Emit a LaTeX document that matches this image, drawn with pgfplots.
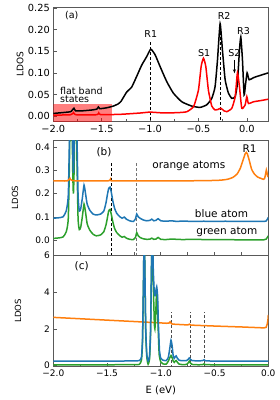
\documentclass[border=0pt]{standalone}
\usepackage{pgfplots}
\pgfplotsset{compat=1.18}
\usetikzlibrary{arrows.meta}
\usepackage{fontspec}
\setmainfont{DejaVu Sans}
\definecolor{tabblue}{HTML}{1F77B4}
\definecolor{taborange}{HTML}{FF7F0E}
\definecolor{tabgreen}{HTML}{2CA02C}
\definecolor{frame}{gray}{0.35}
\pgfplotsset{
  panel/.style={
    scale only axis, width=215pt, anchor=north west,
    axis line style={frame, line width=1pt},
    tick style={frame, line width=0.6pt},
    tick align=inside, xtick pos=lower, ytick pos=left,
    major tick length=3.5pt, minor tick length=3pt,
    minor xtick={-1.75,-1.25,-0.75,-0.25},
    xtick={-2,-1.5,-1,-0.5,0},
    ylabel=LDOS,
    clip=true,
  },
  dline/.style={black, line width=0.9pt, dash pattern=on 3pt off 2pt, forget plot},
  curve/.style={line width=1.5pt, smooth, tension=0.3},
}
\begin{document}
\begin{tikzpicture}
% ---------------- (a)
\begin{axis}[panel, at={(53.3pt,-7.3pt)}, height=114.4pt,
  xmin=-2, xmax=0.222, ymin=-0.0132, ymax=0.252,
  xticklabels={−2.0,−1.5,−1.0,−0.5,0.0},
  ytick={0,0.05,0.1,0.15,0.2,0.25},
  yticklabels={0.00,0.05,0.10,0.15,0.20,0.25},
  every tick label/.append style={font=\fontsize{9.8}{11}\selectfont},
  ylabel style={font=\fontsize{9}{10}\selectfont, at={(axis description cs:-0.155,0.5)}, anchor=center},
]
\fill[red, opacity=0.5] (axis cs:-2,-0.02) rectangle (axis cs:-1.39,0.029);
\addplot[dline] coordinates {(-1.0,-0.02) (-1.0,0.176)};
\addplot[dline] coordinates {(-0.276,-0.02) (-0.276,0.215)};
\addplot[black, curve] coordinates {
(-2.00,0.006) (-1.90,0.008) (-1.82,0.010) (-1.80,0.015) (-1.786,0.018) (-1.77,0.012) (-1.70,0.012)
(-1.60,0.014) (-1.55,0.016) (-1.534,0.021) (-1.52,0.017) (-1.45,0.019) (-1.38,0.023) (-1.33,0.028)
(-1.30,0.034) (-1.276,0.043) (-1.24,0.056) (-1.19,0.067) (-1.14,0.091) (-1.086,0.118) (-1.034,0.138)
(-0.993,0.155) (-0.948,0.142) (-0.897,0.115) (-0.828,0.080) (-0.759,0.053) (-0.672,0.033)
(-0.569,0.023) (-0.483,0.020) (-0.414,0.026) (-0.362,0.041) (-0.328,0.068) (-0.303,0.130)
(-0.276,0.214) (-0.252,0.153) (-0.224,0.084) (-0.19,0.053) (-0.155,0.041) (-0.12,0.045)
(-0.097,0.076) (-0.076,0.153) (-0.062,0.183) (-0.045,0.130) (-0.028,0.049) (-0.014,0.072)
(0.003,0.100) (0.024,0.084) (0.07,0.089) (0.15,0.095) (0.222,0.100)};
\addplot[red, curve] coordinates {
(-2.00,0.002) (-1.82,0.003) (-1.79,0.008) (-1.77,0.003) (-1.55,0.003) (-1.53,0.007) (-1.51,0.003)
(-1.30,0.004) (-1.10,0.007) (-1.00,0.009) (-0.85,0.007) (-0.70,0.008) (-0.62,0.010)
(-0.55,0.022) (-0.50,0.060) (-0.472,0.115) (-0.448,0.134) (-0.424,0.115) (-0.397,0.060)
(-0.362,0.023) (-0.328,0.014) (-0.300,0.015) (-0.269,0.018) (-0.235,0.012) (-0.207,0.010)
(-0.155,0.018) (-0.12,0.045) (-0.097,0.100) (-0.076,0.068) (-0.052,0.018) (-0.017,0.026)
(0.0,0.045) (0.017,0.029) (0.069,0.033) (0.15,0.036) (0.222,0.039)};
\draw[-{Stealth[length=4pt]}, line width=0.8pt] (axis cs:-0.128,0.13) -- (axis cs:-0.128,0.099);
\begin{scope}[font=\fontsize{9.5}{10}\selectfont]
\node at (axis cs:-1.81,0.232) {(a)};
\node at (axis cs:-0.993,0.190) {R1};
\node at (axis cs:-0.234,0.231) {R2};
\node at (axis cs:-0.034,0.198) {R3};
\node at (axis cs:-0.441,0.147) {S1};
\node at (axis cs:-0.128,0.147) {S2};
\node[anchor=west, align=left, inner sep=0pt, font=\fontsize{9.5}{8.7}\selectfont] at (axis cs:-1.931,0.049) {flat band\\states};
\end{scope}
\end{axis}
% ---------------- (b)
\begin{axis}[panel, at={(53.3pt,-140pt)}, height=115pt,
  xmin=-2, xmax=0, ymin=-0.0647, ymax=0.4315,
  xticklabels={},
  ytick={0,0.1,0.2,0.3,0.4},
  yticklabels={0.0,0.1,0.2,0.3,0.4},
  every tick label/.append style={font=\fontsize{9}{10}\selectfont},
  ylabel style={font=\fontsize{8.5}{10}\selectfont, at={(axis description cs:-0.178,0.5)}, anchor=center},
]
\addplot[dline] coordinates {(-1.463,-0.07) (-1.463,0.338)};
\addplot[dline, black!55] coordinates {(-1.224,-0.07) (-1.224,0.338)};
\addplot[tabgreen, curve] coordinates {
(-2.00,0.007) (-1.95,0.009) (-1.91,0.013) (-1.88,0.035) (-1.86,0.10) (-1.845,0.5) (-1.833,1.5)
(-1.822,0.4) (-1.813,0.2) (-1.804,0.4) (-1.795,1.5) (-1.784,0.5) (-1.77,0.10) (-1.758,0.045)
(-1.745,0.055) (-1.73,0.10)
(-1.714,0.155) (-1.70,0.12) (-1.685,0.07) (-1.66,0.042) (-1.63,0.025) (-1.60,0.018) (-1.56,0.022)
(-1.53,0.036) (-1.51,0.065) (-1.497,0.095) (-1.485,0.125) (-1.472,0.132) (-1.46,0.11) (-1.447,0.08)
(-1.43,0.05) (-1.41,0.032) (-1.38,0.018) (-1.36,0.012) (-1.34,0.015) (-1.32,0.008) (-1.29,0.003)
(-1.255,0.002) (-1.235,0.012) (-1.224,0.032) (-1.21,0.018) (-1.19,0.010) (-1.16,0.005) (-1.13,0.003)
(-1.10,0.004) (-1.084,0.008) (-1.065,0.003) (-1.045,0.004) (-1.025,0.011) (-1.00,0.003) (-0.95,0.002)
(-0.90,0.004) (-0.80,0.002) (-0.70,0.003) (-0.60,0.002) (-0.50,0.002) (-0.40,0.002) (-0.30,0.001)
(-0.20,0.001) (-0.10,0.001) (-0.04,0.001) (-0.02,0.004) (-0.008,0.012) (0.0,0.018)};
\addplot[tabblue, curve] coordinates {
(-2.00,0.094) (-1.95,0.096) (-1.91,0.100) (-1.88,0.125) (-1.86,0.20) (-1.845,0.6) (-1.833,1.5)
(-1.822,0.5) (-1.813,0.29) (-1.804,0.5) (-1.795,1.5) (-1.784,0.6) (-1.77,0.20) (-1.758,0.125)
(-1.745,0.135) (-1.73,0.18)
(-1.714,0.237) (-1.70,0.20) (-1.685,0.155) (-1.66,0.128) (-1.63,0.112) (-1.60,0.108) (-1.56,0.112)
(-1.53,0.125) (-1.51,0.16) (-1.497,0.195) (-1.485,0.222) (-1.472,0.228) (-1.46,0.205) (-1.447,0.17)
(-1.43,0.137) (-1.41,0.115) (-1.38,0.100) (-1.36,0.094) (-1.34,0.099) (-1.32,0.090) (-1.29,0.083)
(-1.255,0.080) (-1.235,0.092) (-1.224,0.112) (-1.21,0.100) (-1.19,0.093) (-1.16,0.086) (-1.13,0.083)
(-1.10,0.085) (-1.084,0.090) (-1.065,0.083) (-1.045,0.085) (-1.025,0.092) (-1.00,0.083) (-0.95,0.081)
(-0.90,0.083) (-0.85,0.080) (-0.80,0.082) (-0.70,0.080) (-0.60,0.081) (-0.50,0.080) (-0.40,0.081)
(-0.30,0.080) (-0.20,0.080) (-0.10,0.080) (-0.04,0.080) (-0.02,0.082) (-0.008,0.090) (0.0,0.097)};
\addplot[taborange, curve] coordinates {
(-2.0,0.255) (-1.87,0.255) (-1.845,0.266) (-1.82,0.256) (-1.49,0.255) (-1.47,0.261) (-1.45,0.255)
(-1.0,0.255) (-0.6,0.256) (-0.45,0.258) (-0.38,0.262) (-0.33,0.270) (-0.29,0.285) (-0.26,0.31)
(-0.235,0.345) (-0.215,0.372) (-0.205,0.378) (-0.195,0.372) (-0.175,0.34) (-0.155,0.305)
(-0.13,0.285) (-0.10,0.272) (-0.07,0.266) (-0.045,0.262) (-0.035,0.265) (-0.025,0.285)
(-0.018,0.302) (-0.012,0.29) (-0.005,0.275) (0.0,0.272)};
\begin{scope}[font=\fontsize{10.5}{11}\selectfont]
\node at (axis cs:-1.528,0.381) {(b)};
\node at (axis cs:-0.739,0.319) {orange atoms};
\node at (axis cs:-0.435,0.115) {blue atom};
\node at (axis cs:-0.385,0.036) {green atom};
\node at (axis cs:-0.174,0.396) {R1};
\end{scope}
\end{axis}
% ---------------- (c)
\begin{axis}[panel, at={(53.3pt,-255pt)}, height=111.7pt,
  xmin=-2, xmax=0, ymin=-0.054, ymax=6,
  xticklabels={−2.0,−1.5,−1.0,−0.5,0.0},
  ytick={0,2,4,6}, yticklabels={0,2,4,6},
  every tick label/.append style={font=\fontsize{9}{10}\selectfont},
  ylabel style={font=\fontsize{8.5}{10}\selectfont, at={(axis description cs:-0.164,0.5)}, anchor=center},
  xlabel={E (eV)},
  xlabel style={font=\fontsize{10}{11}\selectfont, at={(axis description cs:0.5,-0.209)}, anchor=center},
]
\addplot[dline, black!70] coordinates {(-0.897,-0.1) (-0.897,2.93)};
\addplot[dline, black!70] coordinates {(-0.727,-0.1) (-0.727,2.93)};
\addplot[dline, black!70] coordinates {(-0.596,-0.1) (-0.596,2.93)};
\addplot[taborange, line width=1.5pt] coordinates {
(-2.0,2.62) (-1.5,2.47) (-1.0,2.32) (-0.95,2.30) (-0.925,2.31) (-0.913,2.38) (-0.90,2.27)
(-0.88,2.25) (-0.75,2.21) (-0.733,2.25) (-0.72,2.20) (-0.5,2.15) (-0.25,2.10) (-0.04,2.05)
(-0.02,2.08) (-0.01,2.25) (-0.003,2.5) (0.0,2.75)};
\addplot[tabgreen, curve] coordinates {
(-2.0,0.05) (-1.5,0.05) (-1.25,0.06) (-1.20,0.07) (-1.18,0.3) (-1.17,1.3) (-1.16,5.0) (-1.155,7.5)
(-1.15,6) (-1.14,1.8) (-1.13,0.45) (-1.118,0.08) (-1.105,0.35) (-1.095,1.8) (-1.085,6) (-1.078,7.5)
(-1.07,4.5) (-1.06,2.3) (-1.055,2.0) (-1.048,2.6) (-1.04,4.0) (-1.033,3.7) (-1.025,2.1) (-1.015,0.6)
(-1.0,0.2) (-0.98,0.1) (-0.95,0.08) (-0.93,0.25) (-0.915,0.45) (-0.905,0.55) (-0.895,0.45)
(-0.885,0.25) (-0.875,0.18) (-0.865,0.25) (-0.857,0.28) (-0.845,0.18) (-0.83,0.09) (-0.80,0.06)
(-0.76,0.07) (-0.745,0.15) (-0.735,0.25) (-0.725,0.15) (-0.71,0.07) (-0.65,0.05) (-0.61,0.06)
(-0.597,0.1) (-0.585,0.06) (-0.5,0.05) (0.0,0.05)};
\addplot[tabblue, curve] coordinates {
(-2.0,0.25) (-1.5,0.25) (-1.25,0.26) (-1.20,0.28) (-1.18,0.45) (-1.17,1.5) (-1.16,5.0) (-1.155,7.5)
(-1.15,6) (-1.14,2.0) (-1.13,0.6) (-1.118,0.25) (-1.105,0.5) (-1.095,2.0) (-1.085,6) (-1.078,7.5)
(-1.07,5.2) (-1.06,3.9) (-1.052,3.8) (-1.045,4.1) (-1.038,4.28) (-1.03,3.8) (-1.022,2.2) (-1.012,0.8)
(-1.0,0.4) (-0.98,0.3) (-0.95,0.28) (-0.93,0.45) (-0.915,1.0) (-0.905,1.38) (-0.895,1.1)
(-0.885,0.55) (-0.875,0.4) (-0.865,0.5) (-0.857,0.53) (-0.845,0.4) (-0.83,0.3) (-0.80,0.27)
(-0.76,0.28) (-0.745,0.35) (-0.735,0.42) (-0.725,0.35) (-0.71,0.28) (-0.65,0.26) (-0.61,0.28)
(-0.597,0.32) (-0.585,0.27) (-0.5,0.25) (0.0,0.25)};
\node[font=\fontsize{10.5}{11}\selectfont] at (axis cs:-1.736,5.37) {(c)};
\end{axis}
\pgfresetboundingbox
\path (0,0) rectangle (280pt,-400pt);
\end{tikzpicture}
\end{document}
